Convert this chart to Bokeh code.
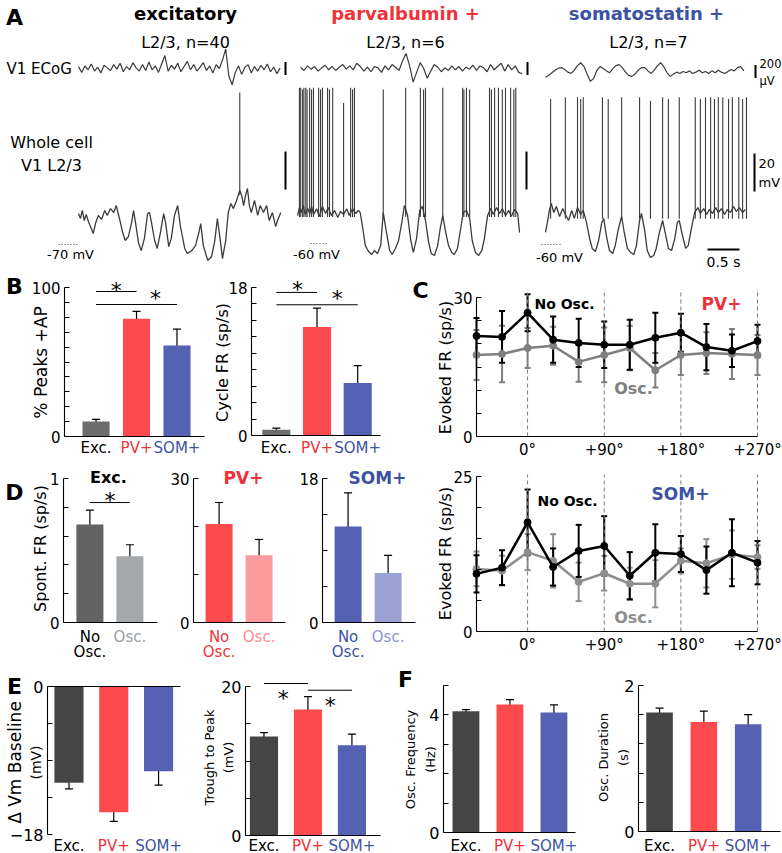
import math
from bokeh.plotting import figure
from bokeh.models import Range1d, FixedTicker, Whisker, TeeHead, ColumnDataSource, LinearAxis
from bokeh.layouts import row, column
from bokeh.embed import file_html
from bokeh.resources import INLINE
from bokeh.core.properties import value

FONT = "DejaVu Sans"
RED = "#fc4a4f"; PINK = "#fd9a9d"; BLUE = "#5561b2"; LBLUE = "#9da2d5"
RED_T = "#ee3338"; BLUE_T = "#3c52a3"; PINK_T = "#fb8d91"; LBLUE_T = "#8d92cc"
DARK = "#454545"; MID = "#6d6d6d"; DGRAY = "#636363"; LGRAY = "#a5a8ab"; LGRAY_T = "#9a9ea1"
TRACE = "#3b3b3b"

# ======================= DATA =======================
# Panel A - whole-cell membrane potential (time s, mV)
exc_vm_t = [0.00,0.03,0.06,0.09,0.12,0.16,0.20,0.23,0.27,0.31,0.36,0.41,0.45,0.50,0.55,0.59,0.64,0.69,0.73,0.78,
            0.83,0.86,0.89,0.94,0.98,1.03,1.08,1.11,1.14,1.19,1.23,1.28,1.33,1.36,1.41,1.45,1.50,1.55,1.59,1.66,
            1.70,1.77,1.83,1.88,1.91,1.95,2.02,2.08,2.13,2.17,2.22,2.25,2.30,2.34,2.38,2.42,2.47,2.52,2.55,2.58,
            2.61,2.64,2.67,2.70,2.75,2.80,2.84,2.89,2.94,2.98,3.03,3.08,3.11,3.16]
exc_vm_mv = [-53.7,-56.3,-52.1,-57.4,-54.2,-58.4,-61.6,-64.2,-58.4,-54.7,-56.8,-52.1,-54.7,-51.1,-53.2,-49.5,-56.3,-63.7,-67.9,-65.8,
             -58.4,-52.1,-58.4,-69.5,-73.2,-66.8,-53.7,-53.2,-58.4,-67.9,-72.1,-63.7,-53.7,-58.4,-71.1,-66.8,-54.7,-49.5,-60.0,-72.1,
             -74.7,-73.2,-70.5,-63.7,-59.0,-70.5,-78.4,-76.3,-67.9,-56.3,-68.9,-77.4,-67.9,-53.2,-48.4,-51.1,-46.8,-41.6,-44.2,-49.5,
             -44.2,-40.5,-49.5,-53.2,-46.8,-54.7,-49.5,-53.2,-49.5,-57.4,-53.2,-60.5,-57.4,-53.2]
exc_spike_t = [2.52]
exc_spike_peak = [10]

pv_vm_t = [0.00,0.03,0.06,0.09,0.12,0.16,0.19,0.22,0.25,0.30,0.34,0.39,0.44,0.48,0.53,0.58,0.63,0.67,0.72,0.77,
           0.81,0.86,0.91,0.95,0.98,1.02,1.06,1.11,1.16,1.20,1.25,1.30,1.34,1.39,1.44,1.48,1.53,1.58,1.63,1.67,
           1.72,1.77,1.81,1.86,1.91,1.95,2.00,2.05,2.09,2.14,2.19,2.23,2.27,2.31,2.36,2.41,2.45,2.50,2.55,2.59,
           2.64,2.69,2.73,2.78,2.83,2.88,2.92,2.97,3.02,3.06,3.11,3.16,3.20,3.25,3.30,3.34,3.39,3.44,3.47]
pv_vm_mv = [-45.3,-41.1,-43.7,-40.0,-44.7,-41.6,-44.2,-40.5,-44.7,-41.8,-45.8,-40.5,-44.2,-41.1,-45.3,-42.6,-46.3,-43.2,-44.7,-41.8,
            -45.3,-41.6,-44.2,-42.6,-43.7,-52.1,-61.1,-64.2,-65.8,-63.7,-65.3,-61.1,-43.7,-54.2,-63.7,-65.8,-62.6,-58.4,-48.9,-40.0,
            -45.3,-58.4,-64.7,-57.4,-42.6,-40.5,-47.9,-59.5,-65.3,-66.3,-61.1,-52.1,-45.3,-53.2,-61.1,-64.7,-65.8,-62.6,-52.1,-43.7,
            -42.6,-46.8,-58.4,-64.7,-66.3,-63.7,-57.4,-45.3,-41.6,-44.7,-41.1,-44.2,-41.6,-45.3,-42.6,-45.8,-42.1,-44.2,-54.2]
pv_spike_t = [0.03,0.05,0.08,0.10,0.13,0.15,0.19,0.22,0.25,0.33,0.36,0.39,0.47,0.50,0.55,0.72,0.83,0.86,0.89,1.34,
              1.69,1.92,1.97,2.00,2.27,2.58,2.60,2.64,2.69,3.00,3.03,3.08,3.14,3.20,3.25,3.33,3.38,3.41]
pv_spike_peak = [22,22,21,22,22,21,22,21,22,22,21,22,22,21,22,14,22,21,22,21,
                 22,22,21,22,22,22,21,22,21,22,21,22,22,21,22,22,21,22]

som_vm_t = [0.00,0.03,0.06,0.09,0.13,0.17,0.22,0.27,0.31,0.36,0.41,0.45,0.50,0.55,0.59,0.64,0.69,0.73,0.78,0.83,
            0.88,0.91,0.95,1.00,1.05,1.09,1.14,1.19,1.23,1.28,1.33,1.38,1.42,1.47,1.50,1.55,1.59,1.64,1.69,1.73,
            1.78,1.83,1.88,1.92,1.97,2.02,2.06,2.09,2.14,2.19,2.23,2.28,2.33,2.38,2.42,2.47,2.52,2.56,2.61,2.66,
            2.70,2.75,2.80,2.84,2.89,2.94,2.98,3.03,3.08,3.12]
som_vm_mv = [-54.2,-48.9,-42.6,-38.9,-43.7,-40.5,-45.8,-41.6,-44.7,-47.9,-42.6,-46.8,-41.1,-44.7,-42.6,-48.9,-57.4,-62.6,-64.2,-58.4,
             -48.9,-46.8,-55.8,-63.7,-65.3,-61.1,-52.1,-45.8,-54.2,-62.6,-64.7,-65.8,-61.1,-47.9,-44.2,-53.2,-63.7,-67.4,-66.3,-62.6,
             -54.2,-47.9,-55.8,-62.6,-63.7,-57.4,-48.9,-47.9,-55.8,-62.6,-61.1,-52.1,-43.7,-41.1,-44.2,-41.6,-44.7,-42.1,-44.2,-41.1,
             -43.7,-41.6,-44.7,-42.1,-43.7,-40.5,-43.2,-41.1,-43.7,-42.1]
som_spike_t = [0.08,0.31,0.50,0.55,0.59,0.89,0.98,1.19,1.47,1.64,1.83,1.92,2.09,2.34,2.42,2.50,2.58,2.64,2.70,2.77,
               2.86,2.92,3.02,3.08,3.14]
som_spike_peak = [16,17,17,16,17,17,16,17,17,15,17,16,17,17,16,17,17,16,17,17,16,17,17,16,17]

# Panel A - V1 ECoG (uV, sampled every dt seconds)
exc_ecog_dt = 0.05
exc_ecog_uv = [30,-60,40,-20,70,-40,20,-70,50,10, -30,60,-10,80,-50,30,-20,90,10,-40,
               60,-30,100,-20,40,-60,70,200,-40,50, -10,80,-50,30,110,-20,60,-40,20,90,
               -30,40,-70,60,0,130,300,-120,-250,-60, 40,-90,20,60,-70,30,-40,50,-20,70,
               -50,20,-80,10]
pv_ecog_dt = 0.055
pv_ecog_uv = [20,-30,40,-10,30,-40,10,50,-20,30, -30,20,60,-10,40,-20,80,30,-40,20,
              -50,30,10,-60,40,-20,60,20,-30,120, 230,40,-210,-60,90,0,-150,-40,60,20,
              -50,10,-30,40,-20,30,-40,20,-10,50, -30,40,10,-50,60,-20,30,80,-40,60,
              -20,40,-60,-80]
som_ecog_dt = 0.05
som_ecog_uv = [-90,-60,-20,20,50,60,30,-10,-30,20, 90,135,80,-40,-150,-110,10,75,50,10,
               -20,40,90,105,60,-10,-60,-75,-40,20, 60,60,10,-30,20,90,135,70,-20,-75,
               -40,-10,-30,0,-20,10,-30,-10,20,-20, 0,-30,10,-20,20,-10,-30,0,30,10,
               60,75,10]
ecog_bar_uv = 200
vm_bar_mv = 20
time_bar_s = 0.5

# Panel B
groups = ["Exc.", "PV+", "SOM+"]
peaks_ap = [10, 79, 61]
peaks_ap_err = [1.5, 5, 11]
cycle_fr = [0.7, 13.2, 6.4]
cycle_fr_err = [0.2, 2.3, 2.1]

# Panel C - evoked firing rate vs. ECoG phase
phase_deg = [-60, -30, 0, 30, 60, 90, 120, 150, 180, 210, 240, 270]
phase_ticks = [0, 90, 180, 270]
phase_labels = ["0\u00b0", "+90\u00b0", "+180\u00b0", "+270\u00b0"]
pv_noosc = [21.7, 21.5, 26.7, 20.9, 20.2, 19.8, 19.8, 21.3, 22.4, 19.3, 18.5, 20.6]
pv_noosc_err = [3.9, 5.6, 4.0, 5.0, 5.2, 5.0, 5.4, 5.4, 4.1, 5.0, 3.5, 3.5]
pv_osc = [17.6, 17.8, 19.1, 19.6, 16.1, 17.6, 19.1, 14.3, 17.6, 18.0, 17.8, 17.6]
pv_osc_err = [5.4, 6.1, 4.3, 4.1, 4.3, 5.9, 4.8, 3.7, 4.3, 4.5, 5.4, 4.3]
som_noosc = [9.3, 10.3, 17.6, 10.4, 13.0, 13.8, 9.0, 12.7, 12.5, 9.9, 12.7, 11.1]
som_noosc_err = [3.0, 2.8, 5.3, 3.0, 4.2, 4.8, 3.8, 4.6, 2.9, 3.8, 5.4, 3.5]
som_osc = [10.1, 9.8, 12.8, 11.4, 8.0, 9.4, 7.7, 7.7, 11.4, 11.0, 12.4, 12.0]
som_osc_err = [2.8, 2.4, 2.9, 4.3, 3.1, 2.8, 2.6, 3.8, 2.0, 3.9, 3.9, 1.9]

# Panel D - spontaneous firing rate
spont_exc = [0.68, 0.46]; spont_exc_err = [0.10, 0.08]
spont_pv = [20.5, 14.0]; spont_pv_err = [4.5, 3.3]
spont_som = [12.0, 6.2]; spont_som_err = [4.2, 2.2]

# Panel E
vm_baseline = [-11.7, -15.3, -10.3]; vm_baseline_err = [0.75, 1.1, 1.7]
trough_peak = [13.3, 16.9, 12.1]; trough_peak_err = [0.5, 1.75, 1.5]
# Panel F
osc_freq = [4.12, 4.35, 4.08]; osc_freq_err = [0.06, 0.17, 0.26]
osc_dur = [1.63, 1.50, 1.47]; osc_dur_err = [0.06, 0.15, 0.13]


# ======================= HELPERS =======================
class Chart:
    """A figure whose plotting frame fills the whole figure; the axes sit inside it at fixed locations."""
    def __init__(self, fig_box, ax_box, xr, yr):
        fx0, fx1, fy0, fy1 = fig_box
        L, R, T, B = ax_box
        self.L, self.B = L, B
        self.xr, self.yr = xr, yr
        self.sx = (xr[1] - xr[0]) / (R - L)
        self.sy = (yr[1] - yr[0]) / (B - T)
        p = figure(width=fx1 - fx0, height=fy1 - fy0,
                   x_range=Range1d(xr[0] - (L - fx0) * self.sx, xr[1] + (fx1 - R) * self.sx),
                   y_range=Range1d(yr[0] - (fy1 - B) * self.sy, yr[1] + (T - fy0) * self.sy),
                   output_backend="svg", toolbar_location=None, min_border=0,
                   x_axis_location=None, y_axis_location=None)
        p.grid.visible = False
        p.outline_line_color = None
        self.p = p

    def px(self, X):
        return self.xr[0] + (X - self.L) * self.sx

    def py(self, Y):
        return self.yr[0] + (self.B - Y) * self.sy

    def axes(self, major, minor, xticks=None, xlabels=None, fs=15):
        ya = LinearAxis(fixed_location=self.xr[0], bounds=self.yr,
                        ticker=FixedTicker(ticks=major, minor_ticks=minor))
        xa = LinearAxis(fixed_location=0, bounds=self.xr, ticker=FixedTicker(ticks=xticks or []))
        for ax in (ya, xa):
            ax.axis_line_color = "black"; ax.axis_line_width = 1.1
            ax.major_tick_in = 5; ax.major_tick_out = 0
            ax.minor_tick_in = 5; ax.minor_tick_out = 0
            ax.major_tick_line_color = "black"; ax.minor_tick_line_color = "black"
            ax.major_label_text_font = FONT
            ax.major_label_text_font_size = f"{fs}px"
            ax.major_label_text_color = "black"
            ax.major_label_standoff = 4
        if xlabels:
            xa.major_label_overrides = dict(zip(xticks, xlabels))
            xa.major_tick_in = 0
            xa.major_label_standoff = 4
        self.p.add_layout(ya, "left")
        self.p.add_layout(xa, "below")

    def text(self, X, Y, txt, size, color="black", bold=False, angle=0.0, align="center"):
        self.p.text(x=[self.px(X)], y=[self.py(Y)], text=[txt], text_font=value(FONT),
                    text_font_size=f"{size}px", text_color=color,
                    text_font_style="bold" if bold else "normal", angle=angle,
                    text_align=align, text_baseline="middle")

    def dtext(self, x, Y, txt, size, color="black", bold=False):
        self.p.text(x=[x], y=[self.py(Y)], text=[txt], text_font=value(FONT),
                    text_font_size=f"{size}px", text_color=color,
                    text_font_style="bold" if bold else "normal",
                    text_align="center", text_baseline="middle")


def errbars(p, xs, vals, errs, color="black", lw=1.2, cap=8):
    src = ColumnDataSource(dict(x=list(xs), lo=[v - e for v, e in zip(vals, errs)],
                                hi=[v + e for v, e in zip(vals, errs)]))
    p.add_layout(Whisker(source=src, base="x", lower="lo", upper="hi", line_color=color, line_width=lw,
                         lower_head=TeeHead(size=cap, line_color=color, line_width=lw),
                         upper_head=TeeHead(size=cap, line_color=color, line_width=lw)))


def bars(c, vals, errs, colors, width, hang=False):
    xs = list(range(1, len(vals) + 1))
    if hang:
        c.p.vbar(x=xs, top=[0] * len(vals), bottom=vals, width=width, fill_color=colors, line_color=None)
    else:
        c.p.vbar(x=xs, top=vals, width=width, fill_color=colors, line_color=None)
    errbars(c.p, xs, vals, errs)


def group_labels(c, Y, size=15):
    for i, (g, col) in enumerate(zip(groups, ["black", RED_T, BLUE_T])):
        c.dtext(i + 1, Y, g, size, col)


def star(c, x, Y, size=22):
    c.dtext(x, Y + 5, "*", size)


# ======================= PANEL A =======================
pa = figure(width=782, height=272, x_range=Range1d(0, 782), y_range=Range1d(272, 0),
            output_backend="svg", toolbar_location=None, min_border=0,
            x_axis_location=None, y_axis_location=None)
pa.grid.visible = False
pa.outline_line_color = None

PX_S = 64.0; PX_MV = 1.9; PX_UV = 0.065

def vm_trace(x0, y0, base, t, mv, sp_t, sp_peak, sp_base):
    pa.line([x0 + PX_S * v for v in t], [y0 - PX_MV * (m - base) for m in mv], line_color=TRACE, line_width=1.3)
    xs = [x0 + PX_S * v for v in sp_t]
    pa.segment(x0=xs, y0=[y0 - PX_MV * (sp_base - base)] * len(xs), x1=xs,
               y1=[y0 - PX_MV * (pk - base) for pk in sp_peak], line_color=TRACE, line_width=1.1)

def ecog_trace(x0, yc, dt, uv):
    pa.line([x0 + PX_S * dt * i for i in range(len(uv))], [yc - PX_UV * u for u in uv],
            line_color=TRACE, line_width=1.2)

vm_trace(78, 244, -70, exc_vm_t, exc_vm_mv, exc_spike_t, exc_spike_peak, -44)
vm_trace(297, 243, -60, pv_vm_t, pv_vm_mv, pv_spike_t, pv_spike_peak, -46)
vm_trace(545, 243, -60, som_vm_t, som_vm_mv, som_spike_t, som_spike_peak, -47)
ecog_trace(78, 68, exc_ecog_dt, exc_ecog_uv)
ecog_trace(300, 68, pv_ecog_dt, pv_ecog_uv)
ecog_trace(545, 71, som_ecog_dt, som_ecog_uv)

pa.segment(x0=[58, 310, 541], y0=[244, 243, 244], x1=[77, 328, 560], y1=[244, 243, 244],
           line_color=TRACE, line_width=1, line_dash="1 2")
eb = ecog_bar_uv * PX_UV
vb = vm_bar_mv * PX_MV
pa.segment(x0=[285, 527, 755], y0=[68 - eb / 2, 68 - eb / 2, 71 - eb / 2],
           x1=[285, 527, 755], y1=[68 + eb / 2, 68 + eb / 2, 71 + eb / 2], line_color="black", line_width=2)
pa.segment(x0=[285, 526, 754], y0=[170 - vb / 2, 170 - vb / 2, 172 - vb / 2],
           x1=[285, 526, 754], y1=[170 + vb / 2, 170 + vb / 2, 172 + vb / 2], line_color="black", line_width=2)
pa.segment(x0=[707], y0=[249], x1=[707 + time_bar_s * PX_S], y1=[249], line_color="black", line_width=2)

def atext(xs, ys, texts, size, color="black", bold=False, align="center"):
    pa.text(x=xs, y=ys, text=texts, text_font=value(FONT), text_font_size=f"{size}px",
            text_color=color, text_font_style="bold" if bold else "normal",
            text_align=align, text_baseline="middle")

atext([14], [17], ["A"], 22, bold=True)
atext([185], [13], ["excitatory"], 18, bold=True)
atext([405], [13], ["parvalbumin +"], 18, color=RED_T, bold=True)
atext([646], [13], ["somatostatin +"], 18, color=BLUE_T, bold=True)
atext([185, 405, 648], [42, 42, 42], ["L2/3, n=40", "L2/3, n=6", "L2/3, n=7"], 16)
atext([6], [68], ["V1 ECoG"], 15, align="left")
atext([51, 51], [142, 165], ["Whole cell", "V1 L2/3"], 16)
atext([759, 759], [63, 80], ["200", "\u00b5V"], 11.5, align="left")
atext([758, 758], [163, 182], ["20", "mV"], 13, align="left")
atext([70, 316, 559], [254, 254, 257], ["-70 mV", "-60 mV", "-60 mV"], 13)
atext([723], [261], ["0.5 s"], 14)

# ======================= ROW 2: B + C top =======================
b1 = Chart((0, 208, 272, 460), (64, 204, 287, 436), (0.22, 3.68), (0, 100))
b1.axes([0, 100], [10, 20, 30, 40, 50, 60, 70, 80, 90])
bars(b1, peaks_ap, peaks_ap_err, [MID, RED, BLUE], 0.67)
b1.p.segment(x0=[1, 1], y0=[97.3, 88.6], x1=[2, 3], y1=[97.3, 88.6], line_color="black", line_width=1)
star(b1, 1.5, 285); star(b1, 2.47, 293)
b1.text(14, 286, "B", 22, bold=True)
b1.text(40, 362, "% Peaks +AP", 17, angle=math.pi / 2)
group_labels(b1, 447)

b2 = Chart((208, 400, 272, 460), (251, 380, 287, 435), (0.39, 3.56), (0, 18))
b2.axes([0, 18], [2, 4, 6, 8, 10, 12, 14, 16])
bars(b2, cycle_fr, cycle_fr_err, [MID, RED, BLUE], 0.69)
b2.p.segment(x0=[1, 1], y0=[17.4, 15.9], x1=[2, 3], y1=[17.4, 15.9], line_color="black", line_width=1)
star(b2, 1.52, 284); star(b2, 2.5, 293)
b2.text(222, 362, "Cycle FR (sp/s)", 16, angle=math.pi / 2)
group_labels(b2, 447)


def phase_chart(fig_box, ax_box, ymax, minor, blk, blk_e, gry, gry_e, gcol, dash_top):
    c = Chart(fig_box, ax_box, (-60, 270), (0, ymax))
    c.axes([0, ymax], minor, xticks=phase_ticks, xlabels=phase_labels)
    c.p.segment(x0=phase_ticks, y0=[0] * 4, x1=phase_ticks, y1=[dash_top] * 4,
                line_color="#7a7a7a", line_dash="4 3", line_width=1)
    for vals, errs, col in [(gry, gry_e, gcol), (blk, blk_e, "black")]:
        errbars(c.p, phase_deg, vals, errs, color=col, lw=2, cap=6)
        c.p.line(phase_deg, vals, line_color=col, line_width=2.5)
        c.p.scatter(phase_deg, vals, size=7, color=col)
    return c

ct = phase_chart((400, 782, 272, 460), (476, 757, 297, 436), 30, [5, 10, 15, 20, 25],
                 pv_noosc, pv_noosc_err, pv_osc, pv_osc_err, "#7f7f7f", 31.8)
ct.text(420, 290, "C", 22, bold=True)
ct.text(445, 367, "Evoked FR (sp/s)", 16, angle=math.pi / 2)
ct.text(564, 303, "No Osc.", 14, bold=True)
ct.text(721, 303, "PV+", 17, color=RED_T, bold=True)
ct.text(633, 388, "Osc.", 16, color="#7f7f7f", bold=True)

# ======================= ROW 3: D + C bottom =======================
ROW3 = (460, 666)

def d_labels(c, col_no, col_osc):
    c.dtext(1, 636, "No", 15, col_no)
    c.dtext(1, 651, "Osc.", 15, col_no)
    c.dtext(2, 636, "Osc.", 15, col_osc)

d1 = Chart((0, 165) + ROW3, (63, 157, 478, 622), (0.34, 2.69), (0, 1))
d1.axes([0, 1], [0.2, 0.4, 0.6, 0.8])
bars(d1, spont_exc, spont_exc_err, [DGRAY, LGRAY], 0.675)
d1.p.segment(x0=[1], y0=[0.833], x1=[2], y1=[0.833], line_color="black", line_width=1)
star(d1, 1.5, 495)
d1.text(14, 492, "D", 22, bold=True)
d1.text(40, 548, "Spont. FR (sp/s)", 16, angle=math.pi / 2)
d1.text(108, 477, "Exc.", 16, bold=True)
d_labels(d1, "black", LGRAY_T)

d2 = Chart((165, 300) + ROW3, (193, 285, 478, 622), (0.36, 2.66), (0, 30))
d2.axes([0, 30], [10, 20])
bars(d2, spont_pv, spont_pv_err, [RED, PINK], 0.675)
d2.text(243, 477, "PV+", 17, color=RED_T, bold=True)
d_labels(d2, RED_T, PINK_T)

d3 = Chart((300, 420) + ROW3, (322, 415, 478, 622), (0.36, 2.685), (0, 18))
d3.axes([0, 18], [4.5, 9, 13.5])
bars(d3, spont_som, spont_som_err, [BLUE, LBLUE], 0.675)
d3.text(377, 477, "SOM+", 17, color=BLUE_T, bold=True)
d_labels(d3, BLUE_T, LBLUE_T)

cb = phase_chart((420, 782) + ROW3, (476, 757, 476, 631), 25, [5, 10, 15, 20],
                 som_noosc, som_noosc_err, som_osc, som_osc_err, "#8e8e8e", 25.3)
cb.text(445, 553, "Evoked FR (sp/s)", 16, angle=math.pi / 2)
cb.text(567, 500, "No Osc.", 14, bold=True)
cb.text(680, 493, "SOM+", 17, color=BLUE_T, bold=True)
cb.text(633, 617, "Osc.", 16, color="#8e8e8e", bold=True)

# ======================= ROW 4: E + F =======================
ROW4 = (666, 853)

e1 = Chart((0, 200) + ROW4, (47, 180, 686, 834), (0.52, 3.49), (-18, 0))
e1.axes([-18, 0], [-13.5, -9, -4.5], fs=16)
bars(e1, vm_baseline, vm_baseline_err, [DARK, RED, BLUE], 0.65, hang=True)
e1.text(14, 686, "E", 22, bold=True)
e1.text(14, 762, "\u0394 Vm Baseline", 17, angle=math.pi / 2)
e1.text(35, 762, "(mV)", 14, angle=math.pi / 2)
group_labels(e1, 845)

e2 = Chart((200, 395) + ROW4, (245, 380, 686, 835), (0.58, 3.65), (0, 20))
e2.axes([0, 20], [5, 10, 15], fs=16)
bars(e2, trough_peak, trough_peak_err, [DARK, RED, BLUE], 0.64)
e2.p.segment(x0=[1, 2], y0=[20.4, 19.5], x1=[2, 3], y1=[20.4, 19.5], line_color="black", line_width=1)
star(e2, 1.44, 693); star(e2, 2.51, 700)
e2.text(209, 757, "Trough to Peak", 13, angle=math.pi / 2)
e2.text(228, 757, "(mV)", 13, angle=math.pi / 2)
group_labels(e2, 845)

f1 = Chart((395, 590) + ROW4, (443, 575, 685, 832), (0.49, 3.49), (0, 5))
f1.axes([0, 4], [1, 2, 3, 5], fs=16)
bars(f1, osc_freq, osc_freq_err, [DARK, RED, BLUE], 0.61)
f1.text(405, 679, "F", 22, bold=True)
f1.text(410, 759, "Osc. Frequency", 13, angle=math.pi / 2)
f1.text(430, 759, "(Hz)", 13, angle=math.pi / 2)
group_labels(f1, 845)

f2 = Chart((590, 782) + ROW4, (638, 780, 685, 831), (0.525, 3.73), (0, 2))
f2.axes([0, 2], [0.4, 0.8, 1.2, 1.6], fs=16)
bars(f2, osc_dur, osc_dur_err, [DARK, RED, BLUE], 0.6)
f2.text(603, 757, "Osc. Duration", 13, angle=math.pi / 2)
f2.text(623, 757, "(s)", 13, angle=math.pi / 2)
group_labels(f2, 845)

layout = column(pa, row(b1.p, b2.p, ct.p), row(d1.p, d2.p, d3.p, cb.p), row(e1.p, e2.p, f1.p, f2.p))
open("out.html", "w").write(file_html(layout, INLINE))
